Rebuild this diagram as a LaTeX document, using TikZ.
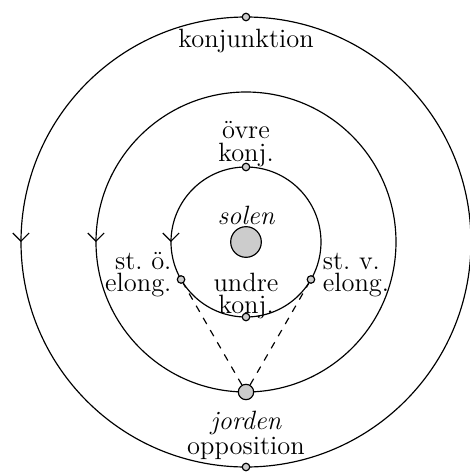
\documentclass[tikz,border=0pt]{standalone}
\usetikzlibrary{arrows.meta,decorations.markings}

\begin{document}
\begin{tikzpicture}[
	line width=0.5pt,
	orbit/.style={
		draw=black,
		postaction={decorate},
		decoration={
			markings,
			mark=at position 0.5 with {\arrow{Straight Barb[length=3.5pt,width=7pt]}}
		}
	},
	% small points on the orbits
	pos dot/.style={
		circle,
		draw=black,
		fill=gray!40,
		inner sep=0pt,
		minimum size=3.2pt
	},
	body/.style={
		circle,
		draw=black,
		fill=gray!40,
		inner sep=0pt
	},
	label text/.style={
		font={\fontsize{11.3}{9.6}\selectfont},
		inner sep=1pt
	},
	sight/.style={
		draw=black,
		dashed
	}
	]
	\useasboundingbox (-3.69,-3.465) rectangle (3.345,3.63);
	
	% ================= ORBITS =================
	\coordinate (C) at (0,0);
	\draw[orbit] (C) circle (1.125);
	\draw[orbit] (C) circle (2.25);
	\draw[orbit] (C) circle (3.375);
	
	% ================= NODES =================
	\node[body, minimum size=0.46cm] (sun) at (C) {};
	\node[body, minimum size=0.23cm] (earth) at (-90:2.25) {};
	
	\node[pos dot] (oconj) at (90:1.125) {};
	\node[pos dot] (uconj) at (-90:1.125) {};
	\node[pos dot] (eelong) at (-150:1.125) {};
	\node[pos dot] (welong) at (-30:1.125) {};
	\node[pos dot] (conj) at (90:3.375) {};
	\node[pos dot] (opp) at (-90:3.375) {};
	
	% ================= LABELS =================
	\node[label text, anchor=south] (solen) at ([yshift=-0.5pt]sun.north) {\itshape solen};
	\node[label text, anchor=south, align=center] (oconjtxt) at ([yshift=-3pt]oconj.north) {övre\\konj.};
	\node[label text, anchor=south, align=center] (uconjtxt) at ([yshift=-4pt]uconj.north) {undre\\konj.};
	\node[label text, anchor=east, align=right] (eelongtxt) at ([xshift=-1pt, yshift=0.07cm]eelong.west) {st.\ ö.\\elong.};
	\node[label text, anchor=west, align=left] (welongtxt) at ([xshift=2pt, yshift=0.07cm]welong.east) {st.\ v.\\elong.};
	\node[label text, anchor=north] (conjtxt) at ([yshift=-2pt]conj.south) {konjunktion};
	\node[label text, anchor=north] (earthtxt) at ([yshift=-3.3pt]earth.south) {\itshape jorden};
	\node[label text, anchor=south] (opptxt) at ([yshift=0pt]opp.north) {opposition};
	
	% ================= SIGHT LINES =================
	\draw[sight] (earth) -- (eelong);
	\draw[sight] (earth) -- (welong);
	
\end{tikzpicture}
\end{document}
